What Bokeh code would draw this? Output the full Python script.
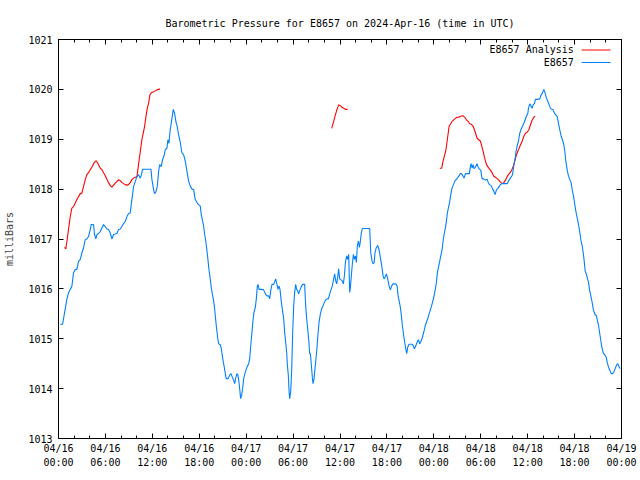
from bokeh.plotting import figure
from bokeh.models import Range1d, FixedTicker, LinearAxis, Label
from bokeh.embed import file_html
from bokeh.resources import INLINE

nan = float("nan")

# ---- data (hours since 2024-04-16 00:00 UTC, pressure in mbar) ----
station_hours = [
    0.22, 0.52, 0.77, 1.07, 1.28, 1.50, 1.71, 1.92, 2.14, 2.35, 2.56, 2.78, 2.99, 3.20, 3.42, 3.63,
    3.84, 4.06, 4.18, 4.48, 4.61, 4.78, 4.91, 5.12, 5.34, 5.55, 5.76, 5.98, 6.19, 6.40, 6.62, 6.83,
    7.04, 7.26, 7.47, 7.68, 7.90, 8.11, 8.32, 8.53, 8.75, 8.96, 9.17, 9.30, 9.47, 9.60, 9.81, 10.03,
    10.24, 10.45, 10.58, 10.75, 11.09, 11.52, 11.82, 11.95, 12.16, 12.29, 12.46, 12.63, 12.80, 12.93,
    13.14, 13.31, 13.53, 13.65, 13.87, 13.99, 14.12, 14.29, 14.51, 14.68, 14.85, 15.02, 15.19, 15.36,
    15.57, 15.79, 16.00, 16.21, 16.43, 16.64, 16.85, 17.07, 17.28, 17.49, 17.71, 17.92, 18.13, 18.26,
    18.43, 18.56, 18.69, 18.86, 18.99, 19.11, 19.24, 19.41, 19.54, 19.67, 19.84, 19.97, 20.09, 20.22,
    20.35, 20.48, 20.69, 20.82, 20.95, 21.08, 21.20, 21.33, 21.46, 21.67, 21.89, 22.06, 22.23, 22.40,
    22.53, 22.65, 22.82, 22.95, 23.08, 23.17, 23.29, 23.42, 23.55, 23.68, 23.89, 24.10, 24.32, 24.45,
    24.57, 24.70, 24.87, 25.00, 25.17, 25.30, 25.43, 25.51, 25.64, 25.81, 26.02, 26.24, 26.45, 26.66,
    26.88, 27.00, 27.17, 27.30, 27.52, 27.64, 27.77, 27.94, 28.07, 28.20, 28.33, 28.45, 28.62, 28.80,
    28.92, 29.05, 29.18, 29.26, 29.39, 29.48, 29.56, 29.69, 29.82, 29.95, 30.08, 30.20, 30.33, 30.46,
    30.59, 30.71, 30.84, 31.01, 31.23, 31.48, 31.61, 31.74, 31.91, 32.04, 32.12, 32.21, 32.34, 32.46,
    32.55, 32.68, 32.80, 32.93, 33.06, 33.19, 33.32, 33.49, 33.66, 33.83, 34.00, 34.17, 34.34, 34.51,
    34.68, 34.85, 35.02, 35.19, 35.32, 35.45, 35.58, 35.70, 35.83, 35.96, 36.13, 36.30, 36.43, 36.56,
    36.69, 36.86, 36.98, 37.11, 37.24, 37.33, 37.45, 37.58, 37.71, 37.84, 37.97, 38.09, 38.22, 38.35,
    38.48, 38.61, 38.73, 38.86, 39.80, 39.93, 40.10, 40.23, 40.37, 40.48, 40.65, 40.82, 40.99, 41.16,
    41.34, 41.51, 41.63, 41.76, 41.93, 42.10, 42.27, 42.44, 42.61, 42.79, 43.13, 43.30, 43.43, 43.60,
    43.72, 43.85, 43.98, 44.11, 44.24, 44.41, 44.53, 44.66, 44.83, 45.00, 45.26, 45.39, 45.52, 45.69,
    45.86, 46.03, 46.20, 46.37, 46.54, 46.71, 46.88, 47.05, 47.22, 47.39, 47.56, 47.78, 47.99, 48.20,
    48.33, 48.46, 48.63, 48.76, 48.89, 49.06, 49.18, 49.31, 49.48, 49.61, 49.74, 49.91, 50.04, 50.17,
    50.34, 50.51, 50.68, 50.85, 51.02, 51.19, 51.36, 51.53, 51.70, 51.87, 52.04, 52.25, 52.55, 52.68,
    52.77, 52.89, 53.02, 53.11, 53.24, 53.36, 53.53, 53.66, 53.83, 54.00, 54.17, 54.39, 54.60, 54.81,
    54.94, 55.11, 55.33, 55.50, 55.67, 55.84, 56.01, 56.18, 56.35, 56.52, 56.73, 57.16, 57.37, 57.54,
    57.71, 57.88, 58.06, 58.23, 58.40, 58.52, 58.65, 58.82, 58.99, 59.16, 59.34, 59.51, 59.68, 59.85,
    60.02, 60.10, 60.27, 60.44, 60.57, 60.70, 60.87, 61.00, 61.21, 61.55, 61.72, 61.89, 62.06, 62.24,
    62.41, 62.58, 62.75, 62.92, 63.09, 63.26, 63.43, 63.60, 63.77, 63.94, 64.11, 64.28, 64.45, 64.62,
    64.75, 64.88, 65.05, 65.22, 65.39, 65.56, 65.69, 65.86, 65.99, 66.16, 66.29, 66.42, 66.54, 66.67,
    66.80, 66.97, 67.10, 67.23, 67.35, 67.48, 67.61, 67.78, 67.91, 68.08, 68.25, 68.38, 68.51, 68.63,
    68.80, 68.93, 69.06, 69.19, 69.32, 69.44, 69.57, 69.70, 69.87, 70.04, 70.17, 70.34, 70.51, 70.68,
    70.85, 71.02, 71.19, 71.36, 71.53, 71.70, 71.83,
]
station_mbar = [
    1015.29, 1015.29, 1015.52, 1015.79, 1015.92, 1015.99, 1016.05, 1016.32, 1016.39, 1016.39, 1016.55, 1016.59, 1016.72, 1016.82, 1016.99, 1017.00,
    1017.05, 1017.19, 1017.29, 1017.29, 1017.09, 1017.00, 1017.09, 1017.11, 1017.15, 1017.22, 1017.29, 1017.25, 1017.20, 1017.19, 1017.12, 1017.00,
    1017.09, 1017.10, 1017.11, 1017.19, 1017.20, 1017.25, 1017.31, 1017.35, 1017.45, 1017.51, 1017.52, 1017.69, 1017.89, 1018.05, 1018.15, 1018.25,
    1018.29, 1018.22, 1018.27, 1018.40, 1018.40, 1018.40, 1018.40, 1018.19, 1017.99, 1017.91, 1017.95, 1018.05, 1018.35, 1018.49,
    1018.45, 1018.59, 1018.69, 1018.79, 1018.82, 1018.99, 1018.92, 1019.19, 1019.42, 1019.60, 1019.52, 1019.35, 1019.25, 1019.09,
    1018.94, 1018.72, 1018.69, 1018.56, 1018.36, 1018.16, 1018.06, 1018.00, 1017.99, 1017.79, 1017.73, 1017.69, 1017.66, 1017.49,
    1017.36, 1017.26, 1017.09, 1016.93, 1016.76, 1016.59, 1016.39, 1016.19, 1016.03, 1015.90, 1015.76, 1015.60, 1015.40, 1015.20,
    1015.03, 1014.90, 1014.88, 1014.80, 1014.66, 1014.53, 1014.43, 1014.30, 1014.20, 1014.20, 1014.27, 1014.30, 1014.23, 1014.17,
    1014.10, 1014.20, 1014.30, 1014.27, 1014.13, 1014.00, 1013.80, 1013.87, 1014.00, 1014.20, 1014.33, 1014.43, 1014.50, 1014.60,
    1014.83, 1015.06, 1015.36, 1015.53, 1015.63, 1015.80, 1016.06, 1016.09, 1015.99, 1015.99, 1015.99, 1015.98, 1015.90, 1015.86,
    1015.86, 1015.80, 1015.99, 1016.09, 1016.09, 1016.14, 1016.20, 1016.09, 1015.99, 1016.06, 1015.99, 1015.80, 1015.60, 1015.40,
    1015.13, 1014.93, 1014.73, 1014.50, 1014.27, 1013.97, 1013.80, 1013.93, 1014.37, 1015.13, 1015.66, 1015.93, 1016.09, 1015.99,
    1015.96, 1015.90, 1015.96, 1016.03, 1016.09, 1016.09, 1015.66, 1015.40, 1015.13, 1014.90, 1014.70, 1014.70, 1014.47, 1014.23,
    1014.10, 1014.20, 1014.40, 1014.60, 1014.83, 1015.10, 1015.33, 1015.50, 1015.60, 1015.66, 1015.73, 1015.78, 1015.80, 1015.80,
    1015.90, 1015.98, 1016.06, 1016.20, 1016.30, 1016.16, 1016.10, 1016.23, 1016.40, 1016.20, 1016.18, 1016.16, 1016.10, 1016.26,
    1016.53, 1016.66, 1016.59, 1016.69, 1015.93, 1016.03, 1016.26, 1016.50, 1016.69, 1016.59, 1016.66, 1016.53, 1016.86, 1016.96,
    1016.83, 1016.96, 1017.13, 1017.21, 1017.21, 1016.73, 1016.56, 1016.50, 1016.53, 1016.73, 1016.83, 1016.87, 1016.79, 1016.63,
    1016.46, 1016.26, 1016.20, 1016.23, 1016.30, 1016.20, 1016.06, 1015.98, 1016.06, 1016.10, 1016.10, 1016.06, 1015.86, 1015.73,
    1015.63, 1015.46, 1015.26, 1015.10, 1014.96, 1014.80, 1014.70, 1014.83, 1014.89, 1014.89, 1014.89, 1014.85, 1014.80, 1014.86,
    1014.93, 1014.98, 1014.90, 1014.95, 1015.03, 1015.13, 1015.25, 1015.33, 1015.40, 1015.50, 1015.58, 1015.70, 1015.83, 1016.00,
    1016.13, 1016.33, 1016.46, 1016.56, 1016.66, 1016.79, 1016.96, 1017.09, 1017.23, 1017.36, 1017.53, 1017.66, 1017.76, 1017.89,
    1018.03, 1018.09, 1018.16, 1018.19, 1018.22, 1018.26, 1018.31, 1018.31, 1018.27, 1018.22, 1018.31, 1018.31, 1018.31, 1018.46,
    1018.51, 1018.42, 1018.49, 1018.42, 1018.42, 1018.46, 1018.51, 1018.44, 1018.40, 1018.38, 1018.21, 1018.20, 1018.18, 1018.20,
    1018.14, 1018.09, 1018.07, 1018.01, 1017.96, 1017.89, 1017.99, 1018.01, 1018.05, 1018.09, 1018.11, 1018.11, 1018.11, 1018.16,
    1018.20, 1018.24, 1018.29, 1018.47, 1018.62, 1018.76, 1018.86, 1018.96, 1019.12, 1019.20, 1019.26, 1019.32, 1019.39, 1019.46,
    1019.52, 1019.62, 1019.71, 1019.66, 1019.62, 1019.69, 1019.72, 1019.80, 1019.80, 1019.81, 1019.89, 1019.93, 1020.00, 1019.92,
    1019.82, 1019.76, 1019.69, 1019.62, 1019.60, 1019.59, 1019.52, 1019.49, 1019.46, 1019.32, 1019.19, 1019.06, 1018.99, 1018.89,
    1018.76, 1018.56, 1018.39, 1018.26, 1018.19, 1018.13, 1017.99, 1017.86, 1017.73, 1017.56, 1017.46, 1017.36, 1017.26, 1017.13,
    1016.99, 1016.86, 1016.73, 1016.56, 1016.36, 1016.30, 1016.23, 1016.13, 1015.98, 1015.86, 1015.73, 1015.60, 1015.53, 1015.48,
    1015.46, 1015.36, 1015.27, 1015.13, 1015.00, 1014.87, 1014.77, 1014.70, 1014.68, 1014.63, 1014.53, 1014.43, 1014.37, 1014.30,
    1014.30, 1014.33, 1014.40, 1014.47, 1014.50, 1014.43, 1014.40,
]

analysis_hours = [
    0.77, 0.94, 1.07, 1.28, 1.50, 1.71, 1.92, 2.14, 2.35, 2.56, 2.78, 2.99, 3.20, 3.42, 3.63, 3.84,
    4.06, 4.27, 4.48, 4.69, 4.82, 4.99, 5.12, 5.34, 5.55, 5.76, 5.98, 6.19, 6.40, 6.62, 6.83, 7.04,
    7.26, 7.47, 7.68, 7.90, 8.11, 8.32, 8.53, 8.75, 8.96, 9.17, 9.39, 9.60, 9.81, 10.03, 10.15, 10.32,
    10.49, 10.66, 10.83, 11.00, 11.18, 11.35, 11.52, 11.69, 11.86, 12.16, 12.37, 12.58, 12.80, 12.97,
    nan,
    34.94, 35.19, 35.41, 35.62, 35.83, 36.05, 36.26, 36.47, 36.69, 36.98,
    nan,
    48.76, 49.01, 49.18, 49.35, 49.52, 49.70, 49.87, 49.95, 50.12, 50.34, 50.55, 50.76, 50.97, 51.19,
    51.40, 51.74, 51.96, 52.17, 52.38, 52.60, 52.81, 53.02, 53.19, 53.36, 53.53, 53.75, 53.96, 54.13,
    54.30, 54.47, 54.64, 54.81, 55.03, 55.24, 55.45, 55.67, 55.88, 56.09, 56.31, 56.52, 56.73, 56.95,
    57.16, 57.37, 57.59, 57.80, 58.01, 58.23, 58.40, 58.57, 58.74, 58.91, 59.08, 59.29, 59.51, 59.72,
    59.93, 60.15, 60.36, 60.57, 60.79, 60.96,
]
analysis_mbar = [
    1016.83, 1016.80, 1016.95, 1017.19, 1017.45, 1017.62, 1017.65, 1017.72, 1017.79, 1017.85, 1017.91, 1017.92, 1018.05, 1018.19, 1018.29, 1018.33,
    1018.39, 1018.44, 1018.51, 1018.55, 1018.57, 1018.53, 1018.49, 1018.42, 1018.39, 1018.33, 1018.27, 1018.20, 1018.13, 1018.07, 1018.04, 1018.08,
    1018.12, 1018.15, 1018.19, 1018.17, 1018.13, 1018.11, 1018.09, 1018.08, 1018.09, 1018.13, 1018.19, 1018.22, 1018.24, 1018.25, 1018.39, 1018.59,
    1018.79, 1018.99, 1019.12, 1019.25, 1019.45, 1019.62, 1019.72, 1019.89, 1019.93, 1019.95, 1019.97, 1019.99, 1020.00, 1020.01,
    nan,
    1019.22, 1019.36, 1019.49, 1019.60, 1019.69, 1019.67, 1019.64, 1019.62, 1019.60, 1019.60,
    nan,
    1018.42, 1018.42, 1018.56, 1018.66, 1018.76, 1018.96, 1019.16, 1019.26, 1019.30, 1019.36, 1019.39, 1019.42, 1019.44, 1019.44,
    1019.46, 1019.47, 1019.44, 1019.39, 1019.36, 1019.31, 1019.30, 1019.26, 1019.19, 1019.11, 1019.02, 1018.99, 1018.96, 1018.86,
    1018.76, 1018.64, 1018.54, 1018.47, 1018.42, 1018.38, 1018.33, 1018.26, 1018.24, 1018.21, 1018.18, 1018.14, 1018.11, 1018.13,
    1018.18, 1018.25, 1018.30, 1018.34, 1018.40, 1018.49, 1018.59, 1018.69, 1018.76, 1018.82, 1018.89, 1018.96, 1019.06, 1019.12,
    1019.14, 1019.19, 1019.29, 1019.38, 1019.44, 1019.46,
]

x_tick_hours = [0, 6, 12, 18, 24, 30, 36, 42, 48, 54, 60, 66, 72]
x_tick_labels = ["04/16\n00:00", "04/16\n06:00", "04/16\n12:00", "04/16\n18:00",
                 "04/17\n00:00", "04/17\n06:00", "04/17\n12:00", "04/17\n18:00",
                 "04/18\n00:00", "04/18\n06:00", "04/18\n12:00", "04/18\n18:00",
                 "04/19\n00:00"]
x_minor_hours = [h for h in range(0, 73, 2)]
y_ticks = [1013, 1014, 1015, 1016, 1017, 1018, 1019, 1020, 1021]

series_names = ["E8657 Analysis", "E8657"]
series_colors = ["#ff0000", "#0080ff"]

FONT = "DejaVu Sans Mono"
FS = "10px"

p = figure(width=640, height=480, output_backend="svg", toolbar_location=None,
           x_range=Range1d(0, 72), y_range=Range1d(1013, 1021),
           min_border_left=58, min_border_right=19, min_border_top=39, min_border_bottom=42,
           x_axis_type=None, y_axis_type=None)
p.background_fill_color = "white"
p.border_fill_color = "white"
p.outline_line_color = "black"
p.outline_line_width = 1
p.grid.visible = False

p.title.text = "Barometric Pressure for E8657 on 2024-Apr-16 (time in UTC)"
p.title.align = "center"
p.title.text_font = FONT
p.title.text_font_size = FS
p.title.text_font_style = "normal"
p.title.text_color = "black"
p.title.standoff = 22

xticker = FixedTicker(ticks=x_tick_hours, minor_ticks=x_minor_hours)
yticker = FixedTicker(ticks=y_ticks, minor_ticks=[])


def style_axis(ax):
    ax.axis_line_color = "black"
    ax.major_tick_line_color = "black"
    ax.minor_tick_line_color = "black"
    ax.major_tick_in = 5
    ax.major_tick_out = 0
    ax.minor_tick_in = 3
    ax.minor_tick_out = 0
    ax.major_label_text_font = FONT
    ax.major_label_text_font_size = FS
    ax.major_label_text_color = "black"
    ax.major_label_standoff = 6


xb = LinearAxis(ticker=xticker)
style_axis(xb)
xb.major_label_overrides = {h: lab for h, lab in zip(x_tick_hours, x_tick_labels)}
xb.major_label_text_line_height = 1.3
xb.major_label_standoff = 4
p.add_layout(xb, "below")

# mirrored tick marks on top and right (no labels)
xt = LinearAxis(ticker=xticker)
style_axis(xt)
xt.major_label_overrides = {h: "" for h in x_tick_hours}
xt.major_label_standoff = 0
p.add_layout(xt, "above")

yl = LinearAxis(ticker=yticker, axis_label="milliBars")
style_axis(yl)
yl.axis_label_text_font = FONT
yl.axis_label_text_font_size = FS
yl.axis_label_text_font_style = "normal"
yl.axis_label_standoff = 10
p.add_layout(yl, "left")

yr = LinearAxis(ticker=yticker)
style_axis(yr)
yr.major_label_overrides = {v: "" for v in y_ticks}
yr.major_label_standoff = 0
p.add_layout(yr, "right")

p.line(analysis_hours, analysis_mbar, line_color=series_colors[0], line_width=1.1)
p.line(station_hours, station_mbar, line_color=series_colors[1], line_width=1.1)

# legend in the gnuplot style: right-aligned text with a line sample to its right
leg_text_x = 65.9
leg_line_x0, leg_line_x1 = 66.9, 70.6
leg_rows = [1020.79, 1020.54]
for name, col, yy in zip(series_names, series_colors, leg_rows):
    p.add_layout(Label(x=leg_text_x, y=yy, text=name, text_align="right", text_baseline="middle",
                       text_font=FONT, text_font_size=FS, text_color="black"))
    p.segment(x0=[leg_line_x0], y0=[yy], x1=[leg_line_x1], y1=[yy], line_color=col, line_width=1.1)

open("out.html", "w").write(file_html(p, INLINE))
